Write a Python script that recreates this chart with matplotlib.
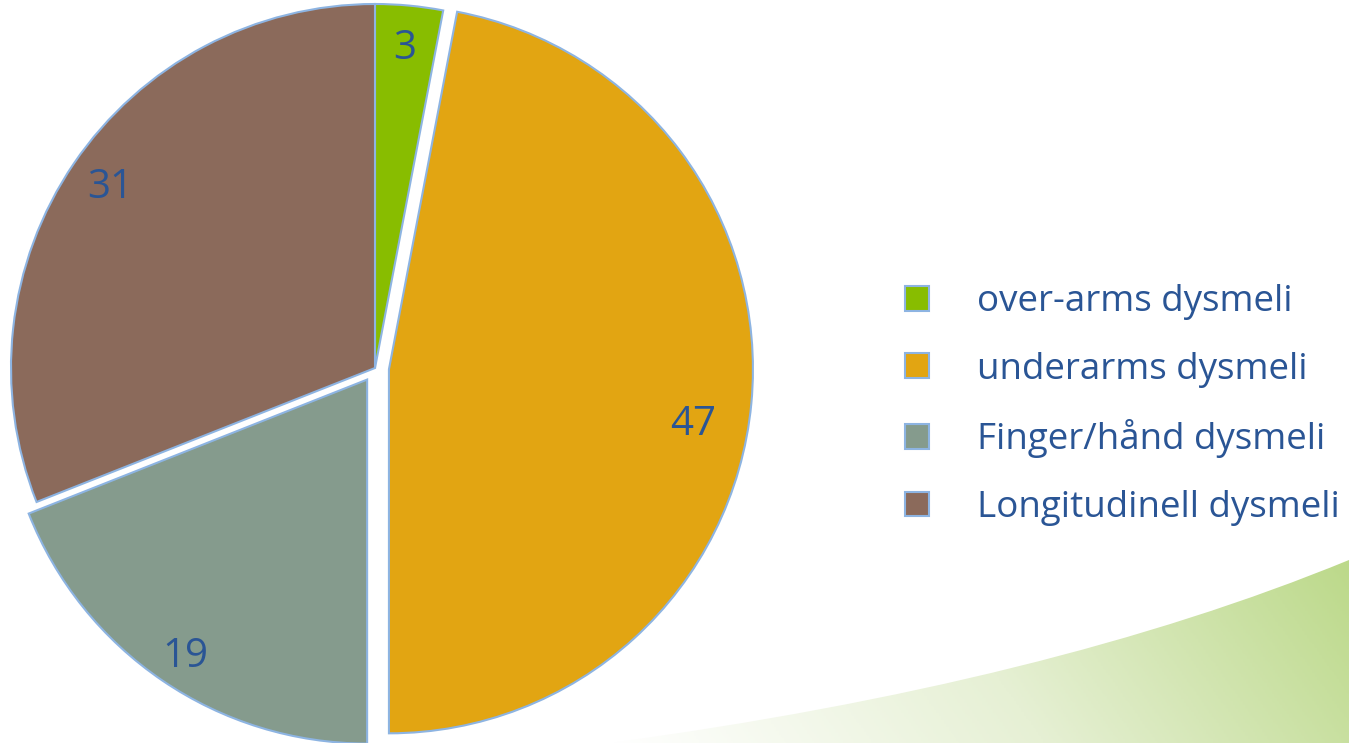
import numpy as np
import matplotlib.pyplot as plt
from matplotlib.patches import PathPatch
from matplotlib.path import Path
from matplotlib.colors import LinearSegmentedColormap

plt.rcParams['font.family'] = ['Open Sans', 'DejaVu Sans']

labels = ["over-arms dysmeli", "underarms dysmeli", "Finger/hånd dysmeli", "Longitudinell dysmeli"]
values = [3, 47, 19, 31]
colors = ["#88bd00", "#e2a512", "#859b8d", "#8b6a5b"]
explode = [0, 14, 14, 0]  # pie offsets are in data units here (radius = 364)
text_color = "#2a5595"
edge_color = "#8db4e2"

fig = plt.figure(figsize=(13.49, 7.43), dpi=100)
ax = fig.add_axes([0, 0, 1, 1])

# green swoosh in the bottom right corner
verts = [(610, 0), (1050, 60), (1349, 183), (1349, 0), (610, 0)]
codes = [Path.MOVETO, Path.CURVE3, Path.CURVE3, Path.LINETO, Path.CLOSEPOLY]
swoosh = PathPatch(Path(verts, codes), facecolor="none", edgecolor="none")
ax.add_patch(swoosh)
cmap = LinearSegmentedColormap.from_list("sw", ["#ffffff", "#e6f0d4", "#bcd98a"])
gx = np.linspace(0, 1, 300)
gy = np.linspace(0, 1, 100)
grad = gx[None, :] * 0.85 + (1 - gy[:, None]) * 0.15
img = ax.imshow(grad, cmap=cmap, extent=(610, 1349, 0, 183), origin="upper",
                aspect="auto", zorder=0)
img.set_clip_path(swoosh)

wedges, texts, autotexts = ax.pie(
    values, colors=colors, explode=explode, startangle=90, counterclock=False,
    radius=364, center=(375, 375), autopct=lambda p: "%d" % round(p),
    pctdistance=0.88, frame=True,
    wedgeprops=dict(edgecolor=edge_color, linewidth=1.5),
    textprops=dict(color=text_color, fontsize=29))

# nudge two labels: (slice index, angle shift in degrees, distance as fraction of radius)
for i, dang, dist in [(1, -5, 0.85), (2, 1, 0.91)]:
    w = wedges[i]
    ang = np.deg2rad(0.5 * (w.theta1 + w.theta2) + dang)
    autotexts[i].set_position((w.center[0] + dist * w.r * np.cos(ang),
                               w.center[1] + dist * w.r * np.sin(ang)))

ax.set_xlim(0, 1349)
ax.set_ylim(0, 743)
ax.axis("off")

leg = ax.legend(wedges, labels, loc="center left", bbox_to_anchor=(872 / 1349, 338 / 743),
                frameon=False, fontsize=26.5, labelcolor=text_color,
                handlelength=0.66, handleheight=0.66, handletextpad=1.3,
                labelspacing=0.86)

fig.savefig("out.png", dpi=100)
